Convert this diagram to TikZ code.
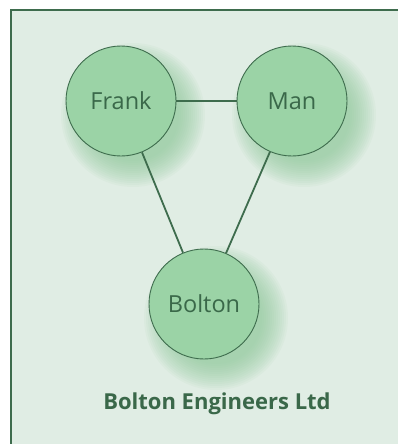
\documentclass[tikz,border=0pt]{standalone}
\usepackage{fontspec}
\setmainfont{Open Sans}
\definecolor{bgc}{RGB}{224,237,228}
\definecolor{fillc}{RGB}{155,211,166}
\definecolor{edgec}{RGB}{62,108,77}
\definecolor{textc}{RGB}{58,104,73}
\definecolor{glowc}{RGB}{140,200,152}
\tikzset{
  person/.style={circle, draw=edgec, line width=0.9pt, fill=fillc, minimum size=110pt, inner sep=0pt, text=textc, font=\fontsize{23.5}{26}\selectfont},
  link/.style={draw=edgec, line width=1.8pt},
  glowring/.style={fill=glowc, fill opacity=0.07}
}
\begin{document}
\begin{tikzpicture}[x=1pt,y=-1pt]
\useasboundingbox (0,0) rectangle (398,444);
\fill[white] (0,0) rectangle (398,444);
\fill[bgc] (11,10) rectangle (398,444);
\draw[edgec, line width=1.3pt] (11,444) -- (11,10) -- (398,10);
% glows
\foreach \r in {46,48,...,72}{
  \fill[glowring] (133,115) circle (\r);
  \fill[glowring] (304,115) circle (\r);
  \fill[glowring] (216,318) circle (\r);
}
% nodes
\node[person] (frank) at (121,101) {Frank};
\node[person] (man) at (292,101) {Man};
\node[person] (bolton) at (204,304) {Bolton};
\draw[link] (frank) -- (man);
\draw[link] (frank) -- (bolton);
\draw[link] (man) -- (bolton);
\node[text=textc, font=\bfseries\fontsize{22}{26}\selectfont] (title) at (217,404) {Bolton Engineers Ltd};
\end{tikzpicture}
\end{document}
